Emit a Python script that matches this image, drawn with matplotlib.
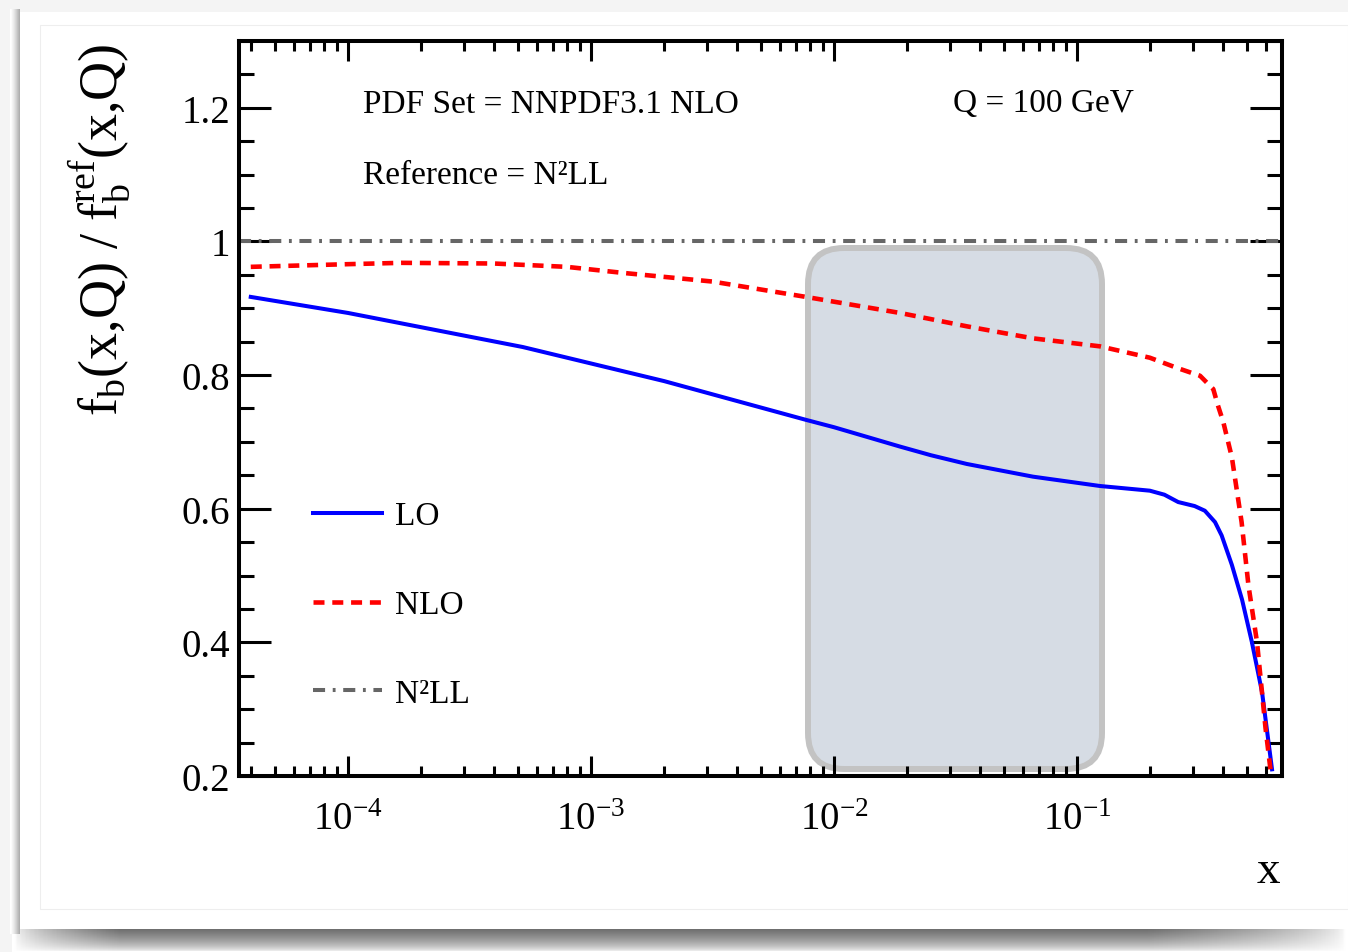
import numpy as np
import matplotlib.pyplot as plt
from matplotlib.patches import FancyBboxPatch, Rectangle
from matplotlib.ticker import FixedLocator, MultipleLocator, LogLocator, NullFormatter, FuncFormatter

plt.rcParams['font.family'] = ['Liberation Serif', 'DejaVu Serif']
plt.rcParams['mathtext.fontset'] = 'custom'
plt.rcParams['mathtext.rm'] = 'Liberation Serif'
plt.rcParams['mathtext.it'] = 'Liberation Serif:italic'
plt.rcParams['mathtext.bf'] = 'Liberation Serif:bold'

# ---- data ----
x_lo = [3.98e-5, 1e-4, 5.24e-4, 2.0e-3, 7.67e-3, 0.01, 0.0187, 0.0251, 0.0352,
        0.0659, 0.1245, 0.1995, 0.229, 0.261, 0.305, 0.336, 0.370, 0.394,
        0.434, 0.478, 0.525, 0.578, 0.635]
y_lo = [0.917, 0.893, 0.842, 0.791, 0.733, 0.722, 0.693, 0.680, 0.667,
        0.648, 0.634, 0.627, 0.621, 0.610, 0.604, 0.597, 0.580, 0.560,
        0.516, 0.464, 0.400, 0.325, 0.210]

x_nlo = [3.98e-5, 1e-4, 1.66e-4, 3.98e-4, 7.94e-4, 1.35e-3, 3.16e-3, 7.67e-3,
         0.0187, 0.0352, 0.0659, 0.1245, 0.1995, 0.257, 0.321, 0.364, 0.380,
         0.400, 0.434, 0.476, 0.508, 0.551, 0.597, 0.627]
y_nlo = [0.962, 0.966, 0.968, 0.967, 0.962, 0.953, 0.940, 0.917,
         0.893, 0.873, 0.855, 0.843, 0.826, 0.811, 0.799, 0.779, 0.755,
         0.730, 0.677, 0.580, 0.485, 0.400, 0.272, 0.207]

ref_level = 1.0
labels = ["LO", "NLO", "N\u00b2LL"]

W, H = 1348, 953
fig = plt.figure(figsize=(W/100, H/100), dpi=100)
fig.patch.set_facecolor('#f4f4f4')

# ---- page / card decoration ----
bg = fig.add_axes([0, 0, 1, 1], zorder=-10)
bg.set_xlim(0, W)
bg.set_ylim(H, 0)
bg.axis('off')
# bottom drop shadow
t = np.linspace(0, 1, 24)[:, None]
u = np.linspace(0, 1, 300)[None, :]
hfac = np.clip(np.minimum(u/0.08, (1-u)/0.15), 0, 1)**0.6
shade = 1 - 0.58*(1-t)**0.6*hfac
bg.imshow(shade, cmap='gray', vmin=0, vmax=1, extent=(12, W, H, 929), aspect='auto', zorder=1)
# left shadow
tl = np.linspace(0, 1, 10)[None, :]
bg.imshow(np.repeat(1 - 0.32*tl**1.3, 50, axis=0), cmap='gray', vmin=0, vmax=1,
          extent=(10, 20, 935, 10), aspect='auto', zorder=1)
bg.add_patch(Rectangle((20, 13), W-20, 917, fc='white', ec='none', zorder=2))
bg.add_patch(Rectangle((40, 26), W-40, 884, fc='none', ec='#eeeeee', lw=0.8, zorder=3))

# ---- main axes ----
ax = fig.add_axes([239/W, 1-777/H, (1282-239)/W, (777-42)/H])
ax.set_facecolor('none')
ax.set_xscale('log')
ax.set_xlim(3.56e-5, 0.698)
ax.set_ylim(0.2, 1.3)

# highlight box (pixel sized rounding, drawn in axes coords)
aw, ah = 1282-239, 777-42
bx0, bx1, by0, by1 = 808, 1102, 249, 770
box = FancyBboxPatch(((bx0-239)/aw, (777-by1)/ah), (bx1-bx0)/aw, (by1-by0)/ah,
                     boxstyle="round,pad=0,rounding_size=%f" % (36/aw),
                     mutation_aspect=aw/ah, transform=ax.transAxes,
                     fc='#d6dce4', ec='#c3c3c3', lw=4.3, zorder=1)
ax.add_patch(box)

ax.plot(x_lo, y_lo, color='#0000ff', lw=2.9, label=labels[0], zorder=3)
ax.plot(x_nlo, y_nlo, color='#ff0000', lw=3.3, ls=(0, (2.4, 1.7)), label=labels[1], zorder=3)
ax.axhline(ref_level, color='#666666', lw=2.9, ls=(0, (3.0, 1.9, 0.7, 1.9)), label=labels[2], zorder=2)

# ---- ticks ----
ax.yaxis.set_major_locator(FixedLocator([0.2, 0.4, 0.6, 0.8, 1.0, 1.2]))
ax.yaxis.set_minor_locator(MultipleLocator(0.05))
ax.yaxis.set_major_formatter(FuncFormatter(lambda v, p: '%g' % v))
ax.xaxis.set_major_locator(LogLocator(base=10, numticks=20))
ax.xaxis.set_minor_locator(LogLocator(base=10, subs=np.arange(2, 10), numticks=20))
ax.xaxis.set_minor_formatter(NullFormatter())

ax.tick_params(which='both', direction='in', top=True, right=True, width=2.2, colors='black')
ax.tick_params(axis='y', which='major', length=23, pad=6.5, labelsize=28)
ax.tick_params(axis='y', which='minor', length=11)
ax.tick_params(axis='x', which='major', length=14.5, pad=18, labelsize=28)
ax.tick_params(axis='x', which='minor', length=7.2)
for s in ax.spines.values():
    s.set_linewidth(2.9)

ax.set_xlabel('x', fontsize=34, va='top')
ax.xaxis.set_label_coords((1268-239)/aw, -(851-777)/ah)
ax.set_ylabel(r'$\mathrm{f_b(x{,}Q)\ /\ f_b^{ref}(x{,}Q)}$', fontsize=39)
ax.yaxis.set_label_coords(-(239-132)/aw, 1-(230-42)/ah)

# ---- annotations ----
ax.text((363-239)/aw, 1-(113-42)/ah, 'PDF Set = NNPDF3.1 NLO', transform=ax.transAxes,
        fontsize=24, va='baseline', ha='left')
ax.text((953-239)/aw, 1-(112-42)/ah, 'Q = 100 GeV', transform=ax.transAxes,
        fontsize=24, va='baseline', ha='left')
ax.text((363-239)/aw, 1-(184-42)/ah, 'Reference = N\u00b2LL', transform=ax.transAxes,
        fontsize=24, va='baseline', ha='left')

ax.legend(loc='center left', bbox_to_anchor=((313-239)/aw, 1-(606-42)/ah),
          frameon=False, fontsize=24, handlelength=2.07, handletextpad=0.4,
          labelspacing=1.75, borderpad=0, borderaxespad=0)

fig.savefig('out.png', dpi=100, facecolor=fig.get_facecolor())
